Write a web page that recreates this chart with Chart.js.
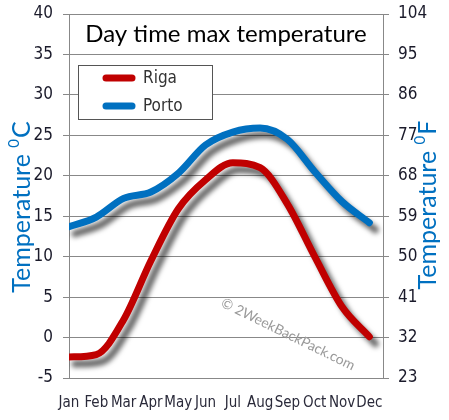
<!DOCTYPE html>
<html>
<head>
<meta charset="utf-8">
<title>Day time max temperature</title>
<script src="https://cdn.jsdelivr.net/npm/chart.js@4.4.1/dist/chart.umd.min.js"></script>
<style>
  html, body { margin: 0; padding: 0; background: #fff; }
  #wrap { width: 449px; height: 420px; }
</style>
</head>
<body>
<div id="wrap"><canvas id="myChart" width="449" height="420"></canvas></div>
<script>
// data
const months = ['Jan', 'Feb', 'Mar', 'Apr', 'May', 'Jun', 'Jul', 'Aug', 'Sep', 'Oct', 'Nov', 'Dec'];
const rigaTemps = [-2.4, -2.1, 2.2, 9.5, 15.9, 19.5, 21.6, 21.0, 16.5, 10.0, 3.8, 0.1];
const portoTemps = [13.7, 14.9, 17.2, 18.0, 20.3, 23.8, 25.4, 25.9, 24.5, 20.5, 16.8, 14.2];
const cityNames = ['Riga', 'Porto'];
const cTicks = [-5, 0, 5, 10, 15, 20, 25, 30, 35, 40];
const fTicks = [23, 32, 41, 50, 59, 68, 77, 86, 95, 104];

const RED = '#c00000';
const BLUE = '#0070c0';
const GRID = '#888';
const tickFont = "'DejaVu Sans Condensed', 'Liberation Sans Narrow', Lato, sans-serif";
const textFont = "Lato, 'Open Sans', sans-serif";

const toPoints = (arr) => arr.map((v, i) => ({ x: i, y: v }));

// shadow under the lines + title, legend, axis titles and watermark
const extras = {
  id: 'extras',
  beforeDatasetDraw(chart) {
    const ctx = chart.ctx;
    ctx.save();
    ctx.shadowColor = 'rgba(0,0,0,0.6)';
    ctx.shadowBlur = 5;
    ctx.shadowOffsetX = 6;
    ctx.shadowOffsetY = 7;
  },
  afterDatasetDraw(chart) {
    chart.ctx.restore();
  },
  afterDraw(chart) {
    const ctx = chart.ctx;
    const area = chart.chartArea;
    const yScale = chart.scales.y;

    // title inside the top band
    ctx.save();
    ctx.fillStyle = '#000';
    ctx.font = '24px ' + textFont;
    ctx.textAlign = 'center';
    ctx.textBaseline = 'middle';
    ctx.fillText('Day time max temperature', (area.left + area.right) / 2, (yScale.getPixelForValue(40) + yScale.getPixelForValue(35)) / 2);
    ctx.restore();

    // legend box
    ctx.save();
    ctx.fillStyle = '#fff';
    ctx.strokeStyle = '#555';
    ctx.lineWidth = 1;
    ctx.fillRect(78.5, 65.5, 134, 54);
    ctx.strokeRect(78.5, 65.5, 134, 54);
    const colors = [RED, BLUE];
    const rows = [78, 106];
    cityNames.forEach((name, i) => {
      ctx.strokeStyle = colors[i];
      ctx.lineWidth = 7;
      ctx.lineCap = 'round';
      ctx.beginPath();
      ctx.moveTo(106, rows[i]);
      ctx.lineTo(132, rows[i]);
      ctx.stroke();
      ctx.fillStyle = '#333';
      ctx.font = '17px ' + tickFont;
      ctx.textAlign = 'left';
      ctx.textBaseline = 'middle';
      ctx.fillText(name, 143, rows[i] + 1);
    });
    ctx.restore();

    // rotated axis titles with a raised small 0
    const axisTitle = (cx, cy, unit) => {
      ctx.save();
      ctx.translate(cx, cy);
      ctx.rotate(-Math.PI / 2);
      ctx.fillStyle = BLUE;
      ctx.textBaseline = 'middle';
      ctx.textAlign = 'left';
      ctx.font = '25px ' + textFont;
      const main = 'Temperature ';
      const w1 = ctx.measureText(main).width;
      const w3 = ctx.measureText(unit).width;
      ctx.font = '15px ' + textFont;
      const w2 = ctx.measureText('0').width + 1;
      let x = -(w1 + w2 + w3) / 2;
      ctx.font = '25px ' + textFont;
      ctx.fillText(main, x, 0);
      x += w1;
      ctx.font = '15px ' + textFont;
      ctx.fillText('0', x, -8);
      x += w2;
      ctx.font = '25px ' + textFont;
      ctx.fillText(unit, x, 0);
      ctx.restore();
    };
    axisTitle(22, 207, 'C');
    axisTitle(428, 205, 'F');

    // watermark
    ctx.save();
    ctx.translate(222, 302);
    ctx.rotate(26 * Math.PI / 180);
    ctx.fillStyle = '#9a9a9a';
    ctx.font = '14px ' + textFont;
    ctx.textBaseline = 'middle';
    ctx.fillText('\u00a9 2WeekBackPack.com', 0, 0);
    ctx.restore();
  }
};

const ctx = document.getElementById('myChart');

const myChart = new Chart(ctx, {
  type: 'line',
  data: {
    datasets: [
      {
        label: cityNames[0],
        data: toPoints(rigaTemps),
        borderColor: RED,
        borderWidth: 7,
        borderCapStyle: 'round',
        pointRadius: 0,
        cubicInterpolationMode: 'monotone',
        yAxisID: 'y'
      },
      {
        label: cityNames[1],
        data: toPoints(portoTemps),
        borderColor: BLUE,
        borderWidth: 7,
        borderCapStyle: 'round',
        pointRadius: 0,
        cubicInterpolationMode: 'monotone',
        yAxisID: 'y'
      }
    ]
  },
  options: {
    responsive: false,
    animation: false,
    layout: { padding: { top: 14, left: 0, right: 0, bottom: 0 } },
    plugins: {
      legend: { display: false },
      tooltip: { enabled: false }
    },
    scales: {
      x: {
        type: 'linear',
        min: 0,
        max: 11.5,
        grid: { display: false, drawTicks: false },
        border: { display: false },
        ticks: {
          stepSize: 1,
          includeBounds: false,
          autoSkip: false,
          maxRotation: 0,
          padding: 16,
          color: '#2a2a3a',
          font: { family: tickFont, size: 15 },
          callback: (v) => months[v]
        },
        afterFit: (scale) => { scale.height = 42; }
      },
      y: {
        position: 'left',
        min: cTicks[0],
        max: cTicks[cTicks.length - 1],
        grid: { color: GRID, tickLength: 6, lineWidth: 1 },
        border: { color: GRID },
        ticks: {
          stepSize: 5,
          padding: 10,
          color: '#1a1a2a',
          // small lineHeight so the top label does not push the plot down
          font: { family: tickFont, size: 17, lineHeight: 0.4 }
        },
        afterFit: (scale) => { scale.width = 69; }
      },
      y1: {
        position: 'right',
        min: cTicks[0],
        max: cTicks[cTicks.length - 1],
        grid: { drawOnChartArea: false, color: GRID, tickLength: 6 },
        border: { color: GRID },
        ticks: {
          stepSize: 5,
          padding: 9,
          color: '#1a1a2a',
          font: { family: tickFont, size: 17, lineHeight: 0.4 },
          callback: (v) => fTicks[cTicks.indexOf(v)]
        },
        afterFit: (scale) => { scale.width = 66; }
      }
    }
  },
  plugins: [extras]
});
</script>
</body>
</html>
